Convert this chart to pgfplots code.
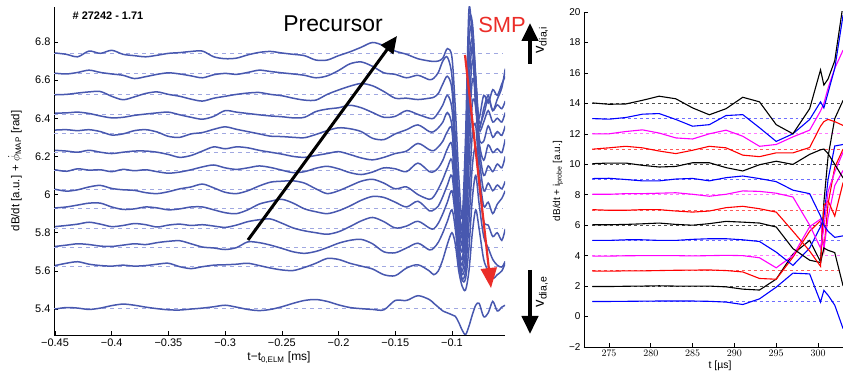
\documentclass[border=0pt]{standalone}
\usepackage{fontspec}
\setmainfont{Liberation Sans}
\usepackage{pgfplots}
\pgfplotsset{compat=1.18}
\usepackage{pgfplotstable}
\usetikzlibrary{arrows.meta}
\definecolor{wave}{RGB}{72,88,175}
\definecolor{refb}{RGB}{160,168,225}
\definecolor{mblue}{RGB}{0,0,255}
\definecolor{mmag}{RGB}{255,0,255}
\definecolor{mred}{RGB}{255,0,0}
\definecolor{dblk}{RGB}{80,80,80}
\definecolor{dblue}{RGB}{110,110,255}
\definecolor{dmag}{RGB}{255,120,255}
\definecolor{dred}{RGB}{255,90,90}
\definecolor{smpred}{RGB}{235,45,40}

\pgfplotstableread{
x c1 c2 c3 c4 c5 c6 c7 c8 c9 c10 c11 c12 c13
-0.45 6.742 6.636 6.523 6.427 6.338 6.232 6.130 6.028 5.930 5.832 5.728 5.628 5.400
-0.44 6.735 6.632 6.525 6.428 6.340 6.228 6.122 6.018 5.935 5.838 5.735 5.640 5.408
-0.43 6.722 6.640 6.532 6.432 6.335 6.222 6.135 6.025 5.945 5.845 5.742 5.648 5.405
-0.42 6.752 6.652 6.538 6.425 6.340 6.232 6.128 6.040 5.955 5.855 5.738 5.635 5.398
-0.41 6.740 6.640 6.540 6.412 6.330 6.222 6.130 6.048 5.955 5.845 5.730 5.628 5.405
-0.40 6.756 6.632 6.515 6.402 6.312 6.215 6.120 6.032 5.935 5.832 5.728 5.625 5.418
-0.39 6.735 6.625 6.497 6.405 6.318 6.222 6.132 6.025 5.922 5.838 5.735 5.630 5.426
-0.38 6.728 6.608 6.512 6.415 6.335 6.228 6.125 6.022 5.925 5.848 5.742 5.625 5.420
-0.37 6.722 6.618 6.530 6.422 6.340 6.228 6.130 6.010 5.935 5.842 5.738 5.628 5.410
-0.36 6.730 6.630 6.538 6.428 6.328 6.222 6.120 6.005 5.930 5.830 5.748 5.635 5.402
-0.35 6.740 6.638 6.525 6.432 6.305 6.210 6.112 6.015 5.920 5.840 5.755 5.640 5.396
-0.34 6.744 6.632 6.515 6.418 6.300 6.195 6.118 6.030 5.925 5.845 5.758 5.622 5.395
-0.33 6.750 6.622 6.500 6.405 6.318 6.205 6.130 6.040 5.935 5.838 5.742 5.612 5.400
-0.32 6.752 6.612 6.490 6.395 6.325 6.228 6.145 6.055 5.935 5.842 5.725 5.622 5.405
-0.31 6.722 6.628 6.505 6.410 6.342 6.250 6.155 6.035 5.920 5.835 5.720 5.630 5.412
-0.30 6.712 6.635 6.515 6.440 6.355 6.240 6.140 6.012 5.905 5.828 5.712 5.632 5.420
-0.29 6.715 6.630 6.525 6.432 6.342 6.250 6.132 6.005 5.900 5.840 5.722 5.635 5.410
-0.28 6.732 6.640 6.532 6.425 6.330 6.245 6.140 6.020 5.920 5.858 5.752 5.640 5.398
-0.27 6.745 6.652 6.535 6.418 6.318 6.232 6.150 6.045 5.950 5.868 5.748 5.628 5.392
-0.26 6.750 6.645 6.525 6.412 6.306 6.222 6.142 6.065 5.965 5.872 5.735 5.615 5.398
-0.25 6.742 6.638 6.518 6.408 6.304 6.212 6.128 6.070 5.975 5.850 5.718 5.605 5.412
-0.24 6.735 6.632 6.505 6.402 6.300 6.200 6.115 6.072 5.955 5.825 5.700 5.602 5.430
-0.23 6.728 6.625 6.495 6.405 6.298 6.195 6.120 6.060 5.925 5.810 5.692 5.618 5.445
-0.22 6.705 6.612 6.495 6.435 6.315 6.205 6.138 6.030 5.910 5.800 5.702 5.640 5.450
-0.21 6.705 6.622 6.525 6.448 6.335 6.215 6.148 6.005 5.900 5.792 5.722 5.665 5.440
-0.20 6.728 6.650 6.548 6.455 6.350 6.225 6.135 6.020 5.915 5.805 5.745 5.660 5.422
-0.19 6.748 6.685 6.568 6.468 6.345 6.210 6.115 6.045 5.940 5.832 5.760 5.640 5.408
-0.18 6.772 6.695 6.582 6.455 6.330 6.192 6.105 6.070 5.970 5.862 5.765 5.625 5.402
-0.17 6.797 6.672 6.570 6.430 6.295 6.182 6.118 6.080 5.990 5.880 5.742 5.610 5.398
-0.16 6.780 6.638 6.540 6.405 6.288 6.195 6.140 6.060 5.985 5.858 5.700 5.580 5.396
-0.15 6.752 6.630 6.505 6.410 6.318 6.215 6.135 6.030 5.960 5.825 5.695 5.575 5.445
-0.14 6.735 6.612 6.505 6.440 6.340 6.228 6.120 6.040 5.935 5.835 5.720 5.615 5.445
-0.13 6.712 6.625 6.498 6.420 6.365 6.268 6.165 6.000 5.965 5.860 5.745 5.632 5.470
-0.12 6.700 6.602 6.505 6.400 6.330 6.235 6.120 5.975 5.915 5.825 5.710 5.600 5.450
-0.116 6.698 6.61 6.51 6.40 6.33 6.23 6.12 5.99 5.92 5.82 5.72 5.58 5.43
-0.112 6.700 6.64 6.53 6.43 6.35 6.25 6.14 6.03 5.94 5.85 5.75 5.60 5.41
-0.108 6.715 6.70 6.58 6.47 6.38 6.28 6.18 6.08 5.99 5.90 5.80 5.66 5.39
-0.104 6.765 6.72 6.62 6.52 6.43 6.33 6.24 6.14 6.05 5.96 5.86 5.74 5.38
-0.100 6.720 6.62 6.55 6.45 6.36 6.34 6.26 6.18 6.10 6.02 5.92 5.80 5.37
-0.097 6.45 6.30 6.25 6.18 6.10 6.05 6.00 5.96 5.92 5.88 5.82 5.74 5.362
-0.094 6.10 5.98 5.92 5.86 5.80 5.75 5.72 5.70 5.68 5.66 5.64 5.60 5.33
-0.091 5.88 5.82 5.78 5.74 5.70 5.66 5.63 5.60 5.58 5.56 5.55 5.52 5.29
-0.088 6.30 6.20 6.10 6.02 5.95 5.88 5.80 5.72 5.65 5.60 5.56 5.50 5.266
-0.085 6.97 6.88 6.78 6.66 6.55 6.42 6.30 6.15 5.98 5.85 5.72 5.60 5.31
-0.082 6.80 6.90 6.88 6.82 6.78 6.70 6.60 6.48 6.32 6.15 5.98 5.80 5.37
-0.079 6.45 6.60 6.62 6.58 6.60 6.58 6.52 6.46 6.36 6.25 6.10 5.92 5.42
-0.076 6.40 6.35 6.38 6.34 6.30 6.28 6.25 6.20 6.12 6.05 5.95 5.82 5.43
-0.072 6.52 6.45 6.42 6.38 6.28 6.18 6.10 6.02 5.94 5.86 5.78 5.66 5.36
-0.068 6.48 6.52 6.50 6.44 6.36 6.26 6.15 6.06 5.96 5.84 5.72 5.60 5.38
-0.064 6.55 6.44 6.44 6.38 6.30 6.22 6.12 6.02 5.90 5.78 5.66 5.56 5.44
-0.060 6.52 6.50 6.47 6.40 6.33 6.24 6.16 6.05 5.95 5.80 5.63 5.58 5.39
-0.056 6.58 6.56 6.45 6.38 6.31 6.22 6.14 6.03 5.98 5.76 5.62 5.60 5.41
-0.053 6.62 6.66 6.49 6.43 6.36 6.29 6.20 6.07 6.02 5.82 5.65 5.64 5.42
}\leftdata

\pgfplotstableread{
t r1 r2 r3 r4 r5 r6 r7 r8 r9 r10 r11 r12 r13 r14
273 0.99 1.97 2.99 3.97 5.00 6.03 7.02 8.03 9.06 10.04 10.99 12.00 13.00 14.03
275 0.99 1.97 2.98 3.97 5.00 6.03 6.98 8.03 9.08 10.08 11.08 12.00 12.96 13.94
277 1.00 1.99 3.00 3.99 5.04 6.05 6.98 8.07 9.00 10.08 11.18 12.15 13.07 13.96
279 1.01 2.00 3.00 4.00 5.04 6.09 7.02 8.07 8.91 9.93 11.08 12.26 13.29 14.20
281 1.02 2.02 3.02 4.00 5.00 6.14 7.02 8.10 8.91 9.82 10.87 12.05 13.33 14.47
283 1.02 2.00 3.04 4.00 5.00 6.05 6.93 8.13 9.03 9.86 10.70 11.73 12.94 14.30
285 1.02 2.00 3.05 3.98 5.07 6.00 6.86 8.03 9.07 10.10 10.92 11.66 12.50 13.70
287 1.00 2.00 3.06 4.00 5.11 6.10 6.93 7.90 8.91 10.10 11.18 12.00 12.60 13.25
289 0.95 1.95 3.02 4.02 5.11 6.25 7.15 8.03 9.12 9.78 11.08 12.24 13.20 13.65
291 0.79 1.80 2.93 4.00 5.04 6.20 7.24 8.25 9.23 9.56 10.60 11.84 13.26 14.40
293 1.16 1.74 2.50 3.86 4.93 6.14 7.08 8.22 9.06 9.97 10.50 11.18 12.40 14.10
295 1.93 2.46 2.45 3.20 4.23 5.88 6.86 8.10 8.86 10.20 10.75 11.30 11.50 12.60
297 2.85 4.10 3.90 4.00 3.36 4.46 5.60 7.85 8.30 9.99 10.75 11.80 12.00 12.00
299 2.80 5.00 5.60 5.90 4.50 3.70 4.30 6.00 8.07 10.65 11.10 12.24 12.94 13.65
300.3 0.95 3.60 6.30 6.40 5.90 3.55 3.30 4.50 6.60 10.95 12.50 13.50 14.10 16.20
300.7 1.72 7.50 4.40 4.40 6.50 4.50 7.30 5.80 6.00 11.00 12.80 14.00 13.70 15.20
301.2 1.40 10.50 7.40 6.50 9.00 4.35 7.60 8.20 5.60 10.70 12.95 15.00 14.70 15.60
302 0.75 13.00 9.80 8.60 11.20 4.20 6.60 9.50 5.20 10.00 12.80 16.30 16.30 16.80
303 -0.80 14.20 11.00 9.60 11.30 2.00 8.80 10.80 5.30 9.10 12.55 17.50 19.80 20.50
}\rightdata

\begin{document}
\begin{tikzpicture}
\useasboundingbox (0,0) rectangle (843bp,372bp);
% ---------------- left panel ----------------
\begin{axis}[
  at={(54bp,37bp)}, anchor=south west, scale only axis,
  width=451bp, height=328bp,
  xmin=-0.4509, xmax=-0.0532, ymin=5.264, ymax=6.983,
  axis x line=bottom, axis y line=left,
  axis line style={-, black, line width=0.6bp},
  tick align=inside, major tick length=4bp,
  tick style={black, line width=0.6bp},
  xtick={-0.45,-0.4,-0.35,-0.3,-0.25,-0.2,-0.15,-0.1},
  xticklabels={−0.45,−0.4,−0.35,−0.3,−0.25,−0.2,−0.15,−0.1},
  ytick={5.4,5.6,5.8,6,6.2,6.4,6.6,6.8},
  yticklabels={5.4,5.6,5.8,6,6.2,6.4,6.6,6.8},
  tick label style={font=\fontsize{11}{12}\selectfont},
  scaled ticks=false,
]
\pgfplotsinvokeforeach{6.74,6.637,6.525,6.42,6.322,6.222,6.125,6.025,5.925,5.825,5.725,5.625,5.405}{
  \addplot[refb, line width=0.8bp, dash pattern=on 4bp off 4bp, forget plot] coordinates {(-0.4509,#1) (-0.055,#1)};
}
\pgfplotsinvokeforeach{1,...,13}{
  \addplot[wave, line width=1.5bp, smooth, tension=0.5] table[x=x, y=c#1] {\leftdata};
}
\end{axis}
% ---------------- right panel ----------------
\begin{axis}[
  at={(583.9bp,25bp)}, anchor=south west, scale only axis,
  width=259.2bp, height=335bp,
  xmin=272, xmax=303, ymin=-2, ymax=20,
  axis x line=bottom, axis y line=left,
  axis line style={-, black, line width=0.6bp},
  tick align=inside, major tick length=4bp,
  tick style={black, line width=0.6bp},
  xtick={275,280,285,290,295,300},
  ytick={-2,0,2,4,6,8,10,12,14,16,18,20},
  yticklabels={−2,0,2,4,6,8,10,12,14,16,18,20},
  tick label style={font=\fontsize{10}{11}\selectfont},
  scaled ticks=false,
]
\addplot[dblue, dashed, line width=0.8bp] coordinates {(273,1) (303,1)};
\addplot[dblk, dashed, line width=0.8bp] coordinates {(273,2) (303,2)};
\addplot[dred, dashed, line width=0.8bp] coordinates {(273,3) (303,3)};
\addplot[dmag, dashed, line width=0.8bp] coordinates {(273,4) (303,4)};
\addplot[dblue, dashed, line width=0.8bp] coordinates {(273,5) (303,5)};
\addplot[dblk, dashed, line width=0.8bp] coordinates {(273,6) (303,6)};
\addplot[dred, dashed, line width=0.8bp] coordinates {(273,7) (303,7)};
\addplot[dmag, dashed, line width=0.8bp] coordinates {(273,8) (303,8)};
\addplot[dblue, dashed, line width=0.8bp] coordinates {(273,9) (303,9)};
\addplot[dblk, dashed, line width=0.8bp] coordinates {(273,10) (303,10)};
\addplot[dred, dashed, line width=0.8bp] coordinates {(273,11) (303,11)};
\addplot[dmag, dashed, line width=0.8bp] coordinates {(273,12) (303,12)};
\addplot[dblue, dashed, line width=0.8bp] coordinates {(273,13) (303,13)};
\addplot[dblk, dashed, line width=0.8bp] coordinates {(273,14) (303,14)};
\addplot[mblue, line width=1.1bp] table[x=t, y=r1] {\rightdata};
\addplot[black, line width=1.1bp] table[x=t, y=r2] {\rightdata};
\addplot[mred, line width=1.1bp] table[x=t, y=r3] {\rightdata};
\addplot[mmag, line width=1.1bp] table[x=t, y=r4] {\rightdata};
\addplot[mblue, line width=1.1bp] table[x=t, y=r5] {\rightdata};
\addplot[black, line width=1.1bp] table[x=t, y=r6] {\rightdata};
\addplot[mred, line width=1.1bp] table[x=t, y=r7] {\rightdata};
\addplot[mmag, line width=1.1bp] table[x=t, y=r8] {\rightdata};
\addplot[mblue, line width=1.1bp] table[x=t, y=r9] {\rightdata};
\addplot[black, line width=1.1bp] table[x=t, y=r10] {\rightdata};
\addplot[mred, line width=1.1bp] table[x=t, y=r11] {\rightdata};
\addplot[mmag, line width=1.1bp] table[x=t, y=r12] {\rightdata};
\addplot[mblue, line width=1.1bp] table[x=t, y=r13] {\rightdata};
\addplot[black, line width=1.1bp] table[x=t, y=r14] {\rightdata};
\end{axis}
% ---------------- labels and annotations ----------------
\node[rotate=90, font=\fontsize{11.5}{12}\selectfont] at (15bp,201bp) {dB/dt [a.u.] + $\dot{\phi}$\textsubscript{MAP} [rad]};
\node[font=\fontsize{12}{13}\selectfont] at (279bp,14bp) {t−t\textsubscript{0,ELM} [ms]};
\node[rotate=90, font=\fontsize{10}{11}\selectfont] at (558bp,191bp) {dB/dt + i\textsubscript{probe} [a.u.]};
\node[font=\fontsize{10.5}{11}\selectfont] at (720bp,6bp) {t [µs]};
\node[font=\fontsize{11}{12}\selectfont\bfseries] at (108bp,356bp) {\# 27242 - 1.71};
\node[font=\fontsize{23}{24}\selectfont] at (333bp,348bp) {Precursor};
\node[font=\fontsize{22}{24}\selectfont, text=smpred] at (502bp,347bp) {SMP};
\draw[line width=3bp, -{Triangle[length=17bp,width=15bp]}] (248bp,132bp) -- (397bp,336bp);
\draw[line width=2.2bp, smpred, -{Triangle[length=20bp,width=16bp]}] (465bp,317bp) -- (491bp,84bp);
\draw[line width=4bp, -{Triangle[length=18bp,width=16bp]}] (530bp,308bp) -- (530bp,349bp);
\draw[line width=4bp, -{Triangle[length=18bp,width=16bp]}] (530bp,102bp) -- (530bp,38bp);
\node[rotate=90, font=\fontsize{15}{16}\selectfont] at (542bp,332bp) {v\textsubscript{dia,i}};
\node[rotate=90, font=\fontsize{15}{16}\selectfont] at (542bp,80bp) {v\textsubscript{dia,e}};
\end{tikzpicture}
\end{document}
